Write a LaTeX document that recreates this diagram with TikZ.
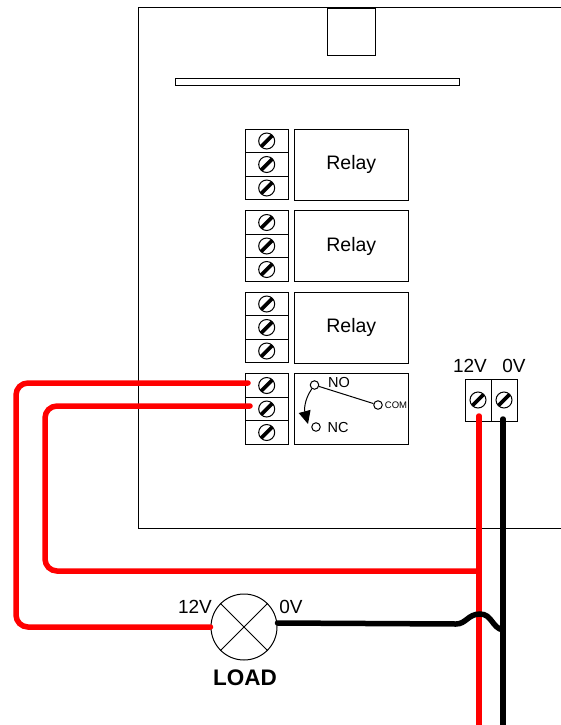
\documentclass[tikz,border=0pt]{standalone}
\usepackage{fontspec}
\setmainfont{Liberation Sans}
\usetikzlibrary{arrows.meta, positioning}
\definecolor{wirered}{RGB}{255,0,0}

\begin{document}
\begin{tikzpicture}[
    x=1pt, y=-1pt,
    outline/.style={draw, line width=1pt, inner sep=0pt},
    relaybox/.style={outline, minimum width=114pt, minimum height=71pt, font=\fontsize{19.5}{22}\selectfont},
    cell/.style={outline, minimum width=43pt, minimum height=23.7pt, path picture={
        \draw[line width=1pt, shift={(path picture bounding box.center)}] (0,0) circle (8);
        \draw[line width=3.6pt, shift={(path picture bounding box.center)}] (-5.7,5.7) -- (5.7,-5.7);}},
    powercell/.style={cell, minimum width=26pt, minimum height=42pt},
    contact/.style={outline, fill=white, circle, minimum size=8.5pt},
    voltage/.style={font=\fontsize{19}{22}\selectfont, inner sep=0pt},
    small/.style={font=\fontsize{14.5}{16}\selectfont, inner sep=0pt},
    redwire/.style={draw=wirered, line width=5.5pt, line cap=round, rounded corners=12pt},
    blackwire/.style={draw=black, line width=5.5pt, line cap=round}
]
    \useasboundingbox (0,0) rectangle (561,725);

    % Board
    \coordinate (boardtop) at (561,8);
    \coordinate (boardcorner) at (138.5,8);
    \coordinate (boardlow) at (138.5,528);
    \coordinate (boardend) at (561,528);
    \draw[line width=1pt] (boardtop) -- (boardcorner) -- (boardlow) -- (boardend);
    \node[outline, minimum width=48pt, minimum height=47.5pt] (socket) at (351.5,32) {};
    \node[outline, minimum width=284pt, minimum height=7pt] (strip) at (317,82) {};

    % Relays
    \node[relaybox] (relay1) at (351.3,164.5) {Relay};
    \node[relaybox] (relay2) at (351.3,246) {Relay};
    \node[relaybox] (relay3) at (351.3,327.5) {Relay};
    \node[relaybox] (relay4) at (351.3,409) {};

    % Terminals
    \node[cell] (t11) at (266.7,141) {};
    \node[cell] (t12) at (266.7,164.5) {};
    \node[cell] (t13) at (266.7,188) {};
    \node[cell] (t21) at (266.7,222.5) {};
    \node[cell] (t22) at (266.7,246) {};
    \node[cell] (t23) at (266.7,269.5) {};
    \node[cell] (t31) at (266.7,304) {};
    \node[cell] (t32) at (266.7,327.5) {};
    \node[cell] (t33) at (266.7,351) {};
    \node[cell] (t41) at (266.7,385.5) {};
    \node[cell] (t42) at (266.7,409) {};
    \node[cell] (t43) at (266.7,432.5) {};

    % Changeover contact
    \node[contact] (no) at (314.5,385) {};
    \node[contact] (nc) at (316,427) {};
    \node[contact] (com) at (378,405) {};
    \node[small] (nolabel) at (339,383) {NO};
    \node[small] (nclabel) at (338,428) {NC};
    \node[font=\fontsize{9.5}{11}\selectfont, inner sep=0pt] (comlabel) at (396,405) {COM};
    \coordinate (armtip) at (308,424);
    \draw[line width=1pt] (no) -- (com);
    \draw[line width=1pt, -{Triangle[length=13pt, width=12pt]}] (no) to[out=235, in=105] (armtip);

    % Power input
    \node[powercell] (in12) at (478,400) {};
    \node[powercell] (in0) at (504,400) {};
    \node[voltage] (in12label) at (470,366) {12V};
    \node[voltage] (in0label) at (514,366) {0V};

    % Load
    \node[draw, line width=1pt, circle, minimum size=66pt, inner sep=0pt] (load) at (244,627) {};
    \draw[line width=1pt] (load.north west) -- (load.south east);
    \draw[line width=1pt] (load.north east) -- (load.south west);
    \node[voltage] (load12) at (195,607) {12V};
    \node[voltage] (load0) at (291,607) {0V};
    \node[font=\bfseries\fontsize{22.5}{26}\selectfont, inner sep=0pt] (loadlabel) at (245,677.5) {LOAD};

    % Wires
    \coordinate (nostub) at (248,383);
    \coordinate (comstub) at (250,406);
    \coordinate (redtop) at (479,416);
    \coordinate (redend) at (479,728);
    \coordinate (blacktop) at (503,419);
    \coordinate (blackend) at (503,728);
    \coordinate (join) at (479,571);
    \coordinate (cross) at (480,614);
    \coordinate (landing) at (503,630);
    \draw[redwire] (redtop) -- (redend);
    \draw[redwire] (nostub) -- (16,383) -- (16,627) -- (load.west);
    \draw[redwire] (comstub) -- (45,406) -- (45,571) -- (join);
    \draw[blackwire] (blacktop) -- (blackend);
    \draw[blackwire] (load.east) ++(0,-4) -- (456,624) .. controls (466,624) and (468,614) .. (cross) .. controls (492,614) and (492,628) .. (landing);
\end{tikzpicture}
\end{document}
